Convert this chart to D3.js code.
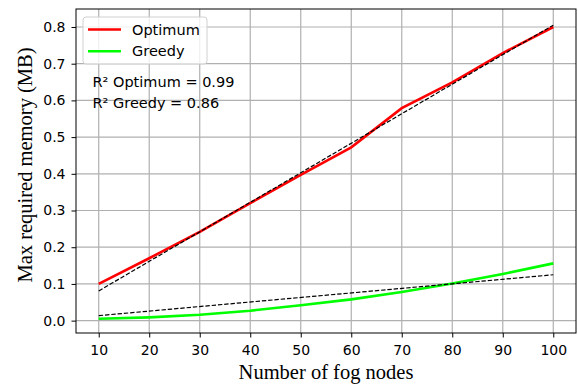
<!DOCTYPE html>
<meta charset="utf-8">
<script src="https://d3js.org/d3.v7.min.js"></script>
<style>
  body { margin: 0; background: #fff; }
  .tick text { font-family: "DejaVu Sans", sans-serif; font-size: 14px; fill: #000; }
</style>
<div id="chart"></div>
<script>
// Data
var nodes = [10, 20, 30, 40, 50, 60, 70, 80, 90, 100];
var optimum = [0.100, 0.170, 0.242, 0.320, 0.397, 0.472, 0.579, 0.649, 0.729, 0.800];
var greedy = [0.005, 0.009, 0.016, 0.027, 0.042, 0.058, 0.078, 0.101, 0.127, 0.156];
// Dashed trend lines (end points)
var fitX = [10, 100];
var optimumFit = [0.081, 0.805];
var greedyFit = [0.0136, 0.125];
var xTicks = [10, 20, 30, 40, 50, 60, 70, 80, 90, 100];
var yTicks = [0.0, 0.1, 0.2, 0.3, 0.4, 0.5, 0.6, 0.7, 0.8];

var W = 578, H = 384;
var margin = { top: 9, left: 76, bottom: 51, right: 2 };
var width = W - margin.left - margin.right;
var height = H - margin.top - margin.bottom;

var x = d3.scaleLinear().domain([5.5, 104.5]).range([0, width]);
var y = d3.scaleLinear().domain([-0.0337, 0.849]).range([height, 0]);

var svg = d3.select("#chart").append("svg")
    .attr("width", W)
    .attr("height", H);

var g = svg.append("g")
    .attr("transform", "translate(" + margin.left + "," + margin.top + ")");

// grid
g.append("g").selectAll("line").data(xTicks).join("line")
    .attr("x1", function(d) { return x(d); }).attr("x2", function(d) { return x(d); })
    .attr("y1", 0).attr("y2", height)
    .attr("stroke", "#b0b0b0").attr("stroke-width", 1.2);
g.append("g").selectAll("line").data(yTicks).join("line")
    .attr("y1", function(d) { return y(d); }).attr("y2", function(d) { return y(d); })
    .attr("x1", 0).attr("x2", width)
    .attr("stroke", "#b0b0b0").attr("stroke-width", 1.2);

// axes
var xAxis = g.append("g")
    .attr("transform", "translate(0," + height + ")")
    .call(d3.axisBottom(x).tickValues(xTicks).tickSize(4.5).tickPadding(8));
var yAxis = g.append("g")
    .call(d3.axisLeft(y).tickValues(yTicks).tickSize(4.5).tickPadding(6).tickFormat(d3.format(".1f")));
[xAxis, yAxis].forEach(function(a) {
    a.select(".domain").remove();
    a.selectAll(".tick line").attr("stroke", "#000").attr("stroke-width", 1);
});

var line = d3.line()
    .x(function(d) { return x(d[0]); })
    .y(function(d) { return y(d[1]); });

function drawSeries(xs, ys, color, w, dash) {
    g.append("path")
        .datum(d3.zip(xs, ys))
        .attr("fill", "none")
        .attr("stroke", color)
        .attr("stroke-width", w)
        .attr("stroke-dasharray", dash)
        .attr("d", line);
}

drawSeries(nodes, optimum, "#ff0000", 2.6, null);
drawSeries(nodes, greedy, "#00ff00", 2.6, null);
drawSeries(fitX, optimumFit, "#000", 1.2, "4.4,1.9");
drawSeries(fitX, greedyFit, "#000", 1.2, "4.4,1.9");

// frame
g.append("rect")
    .attr("width", width).attr("height", height)
    .attr("fill", "none").attr("stroke", "#000").attr("stroke-width", 1);

// legend
var legend = g.append("g").attr("transform", "translate(7,8)");
legend.append("rect")
    .attr("width", 124).attr("height", 47).attr("rx", 3)
    .attr("fill", "#fff").attr("fill-opacity", 0.8)
    .attr("stroke", "#d0d0d0").attr("stroke-width", 1);
[["Optimum", "#ff0000"], ["Greedy", "#00ff00"]].forEach(function(e, i) {
    var yy = 12.5 + i * 21.7;
    legend.append("line")
        .attr("x1", 5).attr("x2", 38).attr("y1", yy).attr("y2", yy)
        .attr("stroke", e[1]).attr("stroke-width", 2.6);
    legend.append("text")
        .attr("x", 49).attr("y", yy).attr("dy", "0.36em")
        .style("font-family", "DejaVu Sans, sans-serif").style("font-size", "14.5px")
        .text(e[0]);
});

// R² annotations
g.append("text").attr("x", 16.5).attr("y", 77.5)
    .style("font-family", "DejaVu Sans, sans-serif").style("font-size", "14.5px")
    .text("R² Optimum = 0.99");
g.append("text").attr("x", 16.5).attr("y", 98.5)
    .style("font-family", "DejaVu Sans, sans-serif").style("font-size", "14.5px")
    .text("R² Greedy = 0.86");

// axis labels
svg.append("text")
    .attr("x", margin.left + width / 2 - 0).attr("y", 379)
    .attr("text-anchor", "middle")
    .style("font-family", "Liberation Serif, Times New Roman, serif").style("font-size", "20.5px")
    .text("Number of fog nodes");
svg.append("text")
    .attr("transform", "translate(32," + (margin.top + height / 2 - 6) + ") rotate(-90)")
    .attr("text-anchor", "middle")
    .style("font-family", "Liberation Serif, Times New Roman, serif").style("font-size", "20.5px")
    .text("Max required memory (MB)");
</script>
